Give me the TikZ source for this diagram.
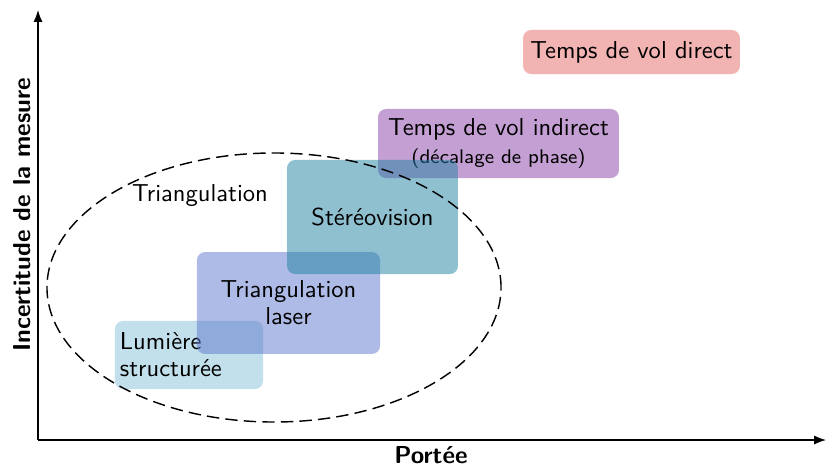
\documentclass[tikz,border=0pt]{standalone}
\usetikzlibrary{shapes.geometric,arrows.meta}
\definecolor{cLum}{RGB}{133,191,217}
\definecolor{cLas}{RGB}{93,119,205}
\definecolor{cSte}{RGB}{31,129,161}
\definecolor{cInd}{RGB}{137,63,167}
\definecolor{cDir}{RGB}{229,103,103}
\begin{document}
\begin{tikzpicture}[x=0.42pt,y=-0.42pt,font=\sffamily\fontsize{10.3}{12.4}\selectfont,
  techbox/.style={rounded corners=3.4pt,fill opacity=0.5,text opacity=1,inner sep=0pt},
  axislabel/.style={font=\sffamily\bfseries\fontsize{10.3}{12.4}\selectfont},
  axisline/.style={line width=0.5pt,-{Latex[length=5pt,width=3.8pt]}}]
\useasboundingbox (0,0) rectangle (826,465);
\coordinate (O) at (38,440);
\coordinate (Ytip) at (38,10);
\coordinate (Xtip) at (826,440);
\draw[axisline] (O) -- (Ytip);
\draw[axisline] (O) -- (Xtip);
\node[axislabel] (xl) at (431,455) {Portée};
\node[axislabel,rotate=90] (yl) at (22,215) {Incertitude de la mesure};
% boxes
\node[techbox,fill=cDir,minimum width=91.1pt,minimum height=18.5pt] (dir) at (631.5,52) {Temps de vol direct};
\node[techbox,fill=cInd,minimum width=101.2pt,minimum height=29pt,align=center] (ind) at (498.5,143.5) {Temps de vol indirect\\[-1pt]{\fontsize{8.3}{10}\selectfont(décalage de phase)}};
\node[techbox,fill=cLum,minimum width=62.2pt,minimum height=28.6pt,text width=58pt,align=left] (lum) at (189,355) {Lumière\\[-1pt]structurée};
\node[techbox,fill=cLas,minimum width=76.9pt,minimum height=42.8pt,align=center] (las) at (288.5,303) {Triangulation\\[-1pt]laser};
\node[techbox,fill=cSte,minimum width=71.8pt,minimum height=47.9pt] (ste) at (372.5,217) {Stéréovision};
% ellipse
\node[ellipse,draw,line width=0.6pt,dash pattern=on 5.2pt off 2.6pt,minimum width=190.7pt,minimum height=113pt,inner sep=0pt] (ell) at (274,287.5) {};
\node (tri) at (200,196) {Triangulation};
\end{tikzpicture}
\end{document}
